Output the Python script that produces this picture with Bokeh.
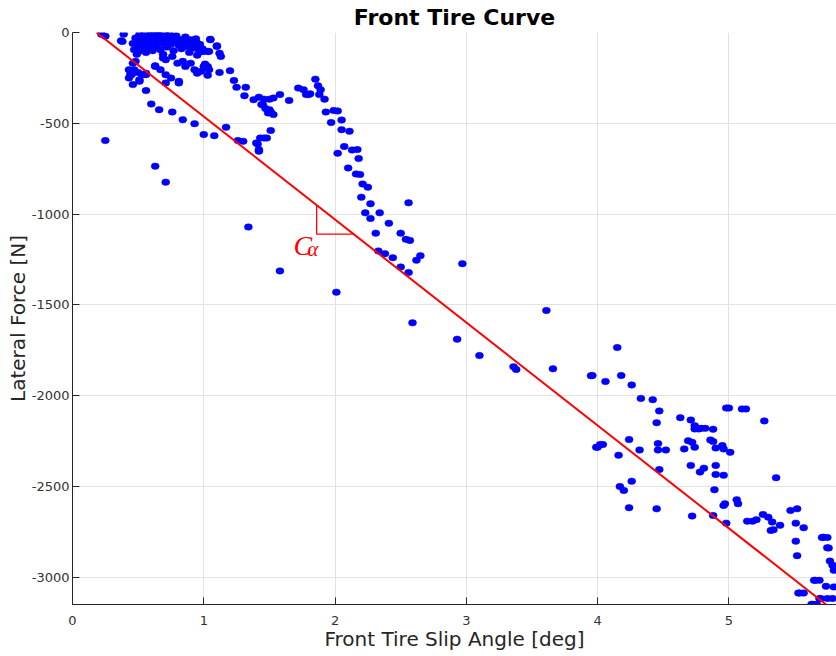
from bokeh.plotting import figure
from bokeh.models import FixedTicker
from bokeh.core.properties import value
from bokeh.embed import file_html
from bokeh.resources import INLINE

# Measured front-tire samples: slip angle [deg] and lateral force [N]
# dense group of samples near zero slip
blob_slip = [0.46, 0.47, 0.48, 0.49, 0.50, 0.51, 0.51, 0.52, 0.53, 0.54, 0.55, 0.55, 0.56, 0.57,
             0.58, 0.59, 0.60, 0.61, 0.61, 0.62, 0.63, 0.64, 0.65, 0.66, 0.67, 0.68, 0.69, 0.70,
             0.71, 0.72, 0.73, 0.74, 0.75, 0.76, 0.77, 0.78, 0.79, 0.81, 0.82, 0.83, 0.85, 0.86,
             0.88, 0.89, 0.91, 0.92, 0.94, 0.95, 0.97, 0.99,
             0.77, 0.81, 0.86, 0.90, 0.93, 0.95, 0.96, 1.00, 1.04, 1.05, 1.10, 1.12, 1.13, 1.05,
             1.10, 0.98, 1.03, 0.53, 0.57, 0.64, 0.69]
blob_force = [-60, -95, -30, -120, -70, -10, -45, -100, -25, -75, -55, -5, -110, -35,
              -85, -15, -60, -40, -100, -5, -25, -80, -50, -15, -95, -35, -60, -3,
              -25, -80, -45, -10, -65, -30, -100, -50, -18, -70, -40, -90, -55, -25,
              -75, -110, -50, -85, -35, -125, -65, -90,
              -40, -49, -77, -40, -68, -59, -95, -104, -104, -40, -77, -114, -132, -37,
              -73, -104, -104, -50, -90, -10, -120]

low_slip = [0.22, 0.25, 0.39, 0.37, 0.38,
            0.69, 0.71, 0.76, 0.80, 0.84, 0.86, 0.90, 0.93, 0.95, 0.98, 1.00, 1.03, 1.04, 1.01, 1.03,
            1.12, 1.20, 1.23, 1.25, 1.32, 1.31,
            0.63, 0.67, 0.71, 0.75, 0.81, 0.81, 0.71, 0.63,
            0.46, 0.48, 0.47, 0.44, 0.43, 0.46, 0.51, 0.53, 0.56, 0.45, 0.43, 0.51, 0.50, 0.56, 0.56,
            0.60, 0.66, 0.76, 0.84, 0.93, 1.00, 1.08, 1.17, 1.26, 1.30,
            0.25, 0.63, 0.71, 1.34, 1.58]
low_force = [-10, -20, -9, -46, -49,
             -141, -150, -132, -169, -159, -187, -169, -205, -224, -214, -187, -187, -205, -174, -236,
             -220, -210, -264, -302, -302, -348,
             -187, -205, -232, -251, -269, -278, -278, -183,
             -169, -159, -205, -232, -251, -287, -260, -232, -224, -232, -205, -269, -220, -320, -232,
             -394, -425, -438, -480, -502, -562, -568, -522, -595, -599,
             -595, -736, -824, -1071, -1313]

mid_slip = [1.38, 1.42, 1.46, 1.50, 1.53, 1.58, 1.65, 1.72, 1.76, 1.80,
            1.45, 1.47, 1.50, 1.51, 1.53, 1.49, 1.44,
            1.51, 1.43, 1.46, 1.48, 1.41, 1.42, 1.40, 1.42,
            1.85, 1.87, 1.89, 1.88, 1.92, 1.78, 1.81,
            1.93, 1.99, 2.02, 1.97, 2.05, 2.05, 2.11,
            2.02, 2.07, 2.13, 2.17, 2.18, 2.10, 2.16, 2.19,
            2.21, 2.25, 2.20, 2.27, 2.23, 2.27, 2.34, 2.31,
            2.41, 2.50, 2.54, 2.57, 2.56, 2.33, 2.38, 2.44,
            2.50, 2.56, 2.62, 2.65, 2.01,
            2.97, 2.59, 3.61, 2.93, 3.10, 3.36, 3.38, 3.66, 3.95]
mid_force = [-370, -356, -367, -367, -361, -342, -374, -306, -315, -342,
             -397, -419, -425, -438, -452, -443, -397,
             -540, -581, -581, -581, -614, -654, -608, -645,
             -257, -293, -315, -342, -367, -342, -337,
             -438, -429, -432, -496, -482, -535, -544,
             -665, -628, -647, -645, -694, -746, -779, -782,
             -834, -852, -907, -943, -993, -1024, -993, -1105,
             -1051, -1105, -1139, -1145, -938, -1203, -1218, -1240,
             -1291, -1322, -1254, -1229, -1430,
             -1273, -1599, -1531, -1689, -1779, -1841, -1856, -1852, -1890]

high_slip = [4.15, 3.96, 4.06, 4.18, 4.26, 4.33, 4.42, 4.47, 4.45, 4.63, 4.71,
             4.74, 4.77, 4.82, 4.88, 3.99, 4.02, 4.16, 4.24, 4.32, 4.46, 4.46, 4.52,
             4.47, 4.66, 4.69, 4.72, 4.74, 4.86, 4.88, 4.90, 4.95, 4.96, 5.01,
             4.98, 5.10, 5.27, 4.71, 4.78, 4.81, 4.90, 4.90, 4.96, 4.89,
             4.17, 4.20, 4.26, 4.24, 4.45, 4.72, 4.88, 4.96, 4.97, 4.98, 5.06, 5.07,
             5.14, 5.18, 5.21, 5.26, 5.30, 5.33, 5.32, 5.34, 5.39, 5.36,
             5.47, 5.52, 5.51, 5.57, 5.51, 5.52, 5.72, 5.76, 5.77, 5.79, 5.80,
             5.66, 5.74, 5.54, 5.70, 5.75, 5.64,
             5.71, 5.75, 5.75, 5.65, 5.69, 5.80, 5.53, 5.57, 5.69, 5.67, 5.63, 5.79,
             4.74, 4.79, 4.00, 4.04, 5.00, 5.13]
high_force = [-1735, -1889, -1922, -1889, -1941, -2015, -2022, -2084, -2149, -2121, -2134,
              -2165, -2183, -2180, -2185, -2284, -2269, -2328, -2242, -2299, -2264, -2299, -2299,
              -2407, -2293, -2248, -2257, -2284, -2244, -2253, -2288, -2275, -2293, -2312,
              -2068, -2073, -2139, -2384, -2421, -2399, -2384, -2434, -2438, -2518,
              -2500, -2522, -2471, -2617, -2623, -2663, -2660, -2605, -2595, -2702, -2573, -2595,
              -2691, -2691, -2683, -2654, -2669, -2696, -2742, -2738, -2714, -2452,
              -2632, -2623, -2702, -2727, -2801, -2881, -2779, -2839, -2911, -2934, -2962,
              -3017, -3050, -3087, -3117, -3117, -3149,
              -2781, -2781, -2837, -3017, -3017, -3053, -3087, -3087, -3117, -3149, -3149, -3117,
              -2183, -2180, -2284, -2269, -2068, -2073]

slip = blob_slip + low_slip + mid_slip + high_slip
force = blob_force + low_force + mid_force + high_force

# Linear cornering-stiffness fit (end points of the red line)
fit_slip = [0.183, 5.74]
fit_force = [0.0, -3150.0]

# Slope triangle marking C_alpha
tri_slip = 1.86
tri_drop = 160.0

x_ticks = [0, 1, 2, 3, 4, 5]
y_ticks = [-3000, -2500, -2000, -1500, -1000, -500, 0]

p = figure(width=836, height=656, x_range=(0, 5.82), y_range=(-3150, 0),
           output_backend="svg", toolbar_location=None,
           title="Front Tire Curve",
           min_border_left=72, min_border_right=0, min_border_top=31, min_border_bottom=52)
p.outline_line_color = None
p.background_fill_color = "white"
p.border_fill_color = "white"

p.title.text_font = "DejaVu Sans"
p.title.text_font_size = "22px"
p.title.text_font_style = "bold"
p.title.align = "center"
p.title.text_color = "#000000"
p.title.standoff = 5

for ax in (p.xaxis[0], p.yaxis[0]):
    ax.axis_line_color = "#262626"
    ax.major_tick_line_color = "#262626"
    ax.major_tick_in = 7
    ax.major_tick_out = 0
    ax.minor_tick_line_color = None
    ax.major_label_text_font = "DejaVu Sans"
    ax.major_label_text_font_size = "13px"
    ax.major_label_text_color = "#333333"
    ax.axis_label_text_font = "DejaVu Sans"
    ax.axis_label_text_font_size = "20px"
    ax.axis_label_text_font_style = "normal"
    ax.axis_label_text_color = "#262626"

p.xaxis.ticker = FixedTicker(ticks=x_ticks)
p.yaxis.ticker = FixedTicker(ticks=y_ticks)
# plain hyphen-minus tick labels
p.yaxis.major_label_overrides = {t: str(t) for t in y_ticks}
p.xaxis.major_label_standoff = 11
p.yaxis.major_label_standoff = 3
p.xaxis.axis_label_standoff = -1
p.yaxis.axis_label_standoff = -1
p.xaxis.axis_label = "Front Tire Slip Angle [deg]"
p.yaxis.axis_label = "Lateral Force [N]"

p.xgrid.grid_line_color = "#e2e2e2"
p.ygrid.grid_line_color = "#e2e2e2"

p.ellipse(x=slip, y=force, width=8, height=6.5, width_units="screen", height_units="screen",
          fill_color="#0000ff", line_color="#0000ff", line_width=0.5)

p.line(fit_slip, fit_force, line_color="#ff0000", line_width=2)

# triangle geometry follows the fitted line
slope = (fit_force[1] - fit_force[0]) / (fit_slip[1] - fit_slip[0])
tri_top = fit_force[0] + slope * (tri_slip - fit_slip[0])
tri_bottom = tri_top - tri_drop
tri_end = fit_slip[0] + (tri_bottom - fit_force[0]) / slope
p.line([tri_slip, tri_slip, tri_end], [tri_top, tri_bottom, tri_bottom],
       line_color="#ff0000", line_width=1.3)

p.text(x=[tri_slip - 0.177], y=[tri_bottom - 65], text=["C"],
       text_font=value("Liberation Serif"), text_font_style="italic", text_font_size="28px",
       text_color="#ff0000", text_align="left", text_baseline="alphabetic")
p.text(x=[tri_slip - 0.072], y=[tri_bottom - 82], text=["α"],
       text_font=value("Liberation Serif"), text_font_style="italic", text_font_size="21px",
       text_color="#ff0000", text_align="left", text_baseline="alphabetic")

open("out.html", "w").write(file_html(p, INLINE))
